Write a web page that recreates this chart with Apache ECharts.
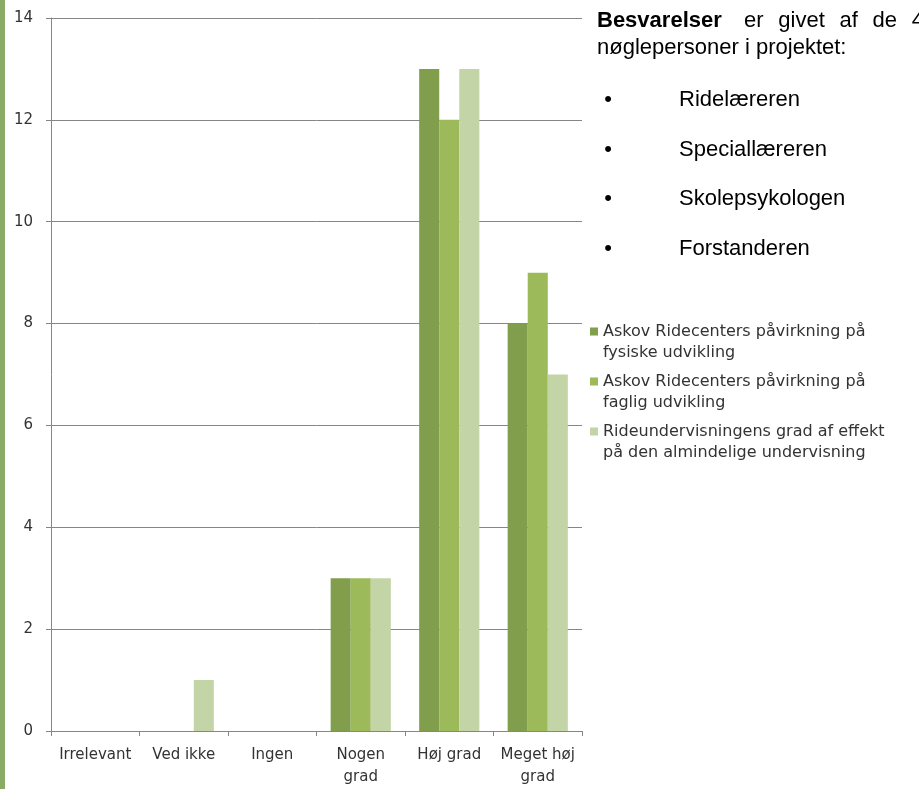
<!DOCTYPE html>
<html><head><meta charset="utf-8">
<script src="https://cdn.jsdelivr.net/npm/echarts@6/dist/echarts.min.js"></script>
<style>html,body{margin:0;padding:0;background:#fff}#c{width:919px;height:789px}</style>
</head><body><div id="c"></div>
<script>
var categories = ['Irrelevant', 'Ved ikke', 'Ingen', 'Nogen\ngrad', 'Høj grad', 'Meget høj\ngrad'];
var seriesNames = [
  'Askov Ridecenters påvirkning på\nfysiske udvikling',
  'Askov Ridecenters påvirkning på\nfaglig udvikling',
  'Rideundervisningens grad af effekt\npå den almindelige undervisning'
];
var fysisk = [0, 0, 0, 3, 13, 8];
var faglig = [0, 0, 0, 3, 12, 9];
var effekt = [0, 1, 0, 3, 13, 7];
var yTicks = { min: 0, max: 14, interval: 2 };
var introWords = ['Besvarelser', 'er', 'givet', 'af', 'de', '4'];
var introLine2 = 'nøglepersoner i projektet:';
var bullets = ['Ridelæreren', 'Speciallæreren', 'Skolepsykologen', 'Forstanderen'];
var colors = ['#809e4c', '#9dba5b', '#c3d4a6'];

var chart = echarts.init(document.getElementById('c'));
var values = [fysisk, faglig, effekt];
var font = '"DejaVu Sans", sans-serif';
var arial = '"Liberation Sans", Arial, sans-serif';
var fs = 22;

// justified first line of the text column
var ctx = document.createElement('canvas').getContext('2d');
function w(t, bold) { ctx.font = (bold ? 'bold ' : '') + fs + 'px ' + arial; return ctx.measureText(t).width; }
var lineStart = 597, lineEnd = 924;
var total = 0;
introWords.forEach(function (t, i) { total += w(t, i === 0); });
var gap = (lineEnd - lineStart - total) / (introWords.length - 1);
var graphics = [
  { type: 'rect', shape: { x: 0, y: 0, width: 5, height: 789 }, style: { fill: '#8aab66' } }
];
var cx = lineStart;
introWords.forEach(function (t, i) {
  graphics.push({ type: 'text', x: cx, y: 21, style: { text: t, fontSize: fs, fontWeight: i === 0 ? 'bold' : 'normal', fontFamily: arial, fill: '#000', verticalAlign: 'middle' } });
  cx += w(t, i === 0) + gap + (i === 0 ? 6 : -1.5);
});
graphics.push({ type: 'text', x: lineStart, y: 48, style: { text: introLine2, fontSize: fs, fontFamily: arial, fill: '#000', verticalAlign: 'middle' } });
bullets.forEach(function (b, i) {
  var y = 100 + i * 49.5;
  graphics.push({ type: 'text', x: 608, y: y, style: { text: '•', fontSize: fs, fontFamily: arial, fill: '#000', align: 'center', verticalAlign: 'middle' } });
  graphics.push({ type: 'text', x: 679, y: y, style: { text: b, fontSize: fs, fontFamily: arial, fill: '#000', verticalAlign: 'middle' } });
});

chart.setOption({
  animation: false,
  color: colors,
  grid: { left: 51, right: 337, top: 18, bottom: 58, containLabel: false },
  legend: {
    orient: 'vertical', left: 585, top: 316,
    icon: 'path://M0,0H8V8H0Z M0,30L0.01,30', itemWidth: 8, itemHeight: 30, itemGap: 7,
    textStyle: { fontSize: 16, lineHeight: 21.5, fontFamily: font, color: '#333' },
    data: seriesNames
  },
  xAxis: {
    type: 'category', data: categories,
    axisLine: { lineStyle: { color: '#868686', width: 1 } },
    axisTick: { show: true, length: 5, lineStyle: { color: '#868686' } },
    axisLabel: { fontSize: 15, lineHeight: 22, fontFamily: font, color: '#333', margin: 13, interval: 0 }
  },
  yAxis: {
    type: 'value', min: yTicks.min, max: yTicks.max, interval: yTicks.interval,
    axisLine: { show: true, lineStyle: { color: '#868686', width: 1 } },
    axisTick: { show: true, length: 5, lineStyle: { color: '#868686' } },
    axisLabel: { fontSize: 15, fontFamily: font, color: '#333', margin: 18 },
    splitLine: { show: true, lineStyle: { color: '#868686', width: 1 } }
  },
  series: seriesNames.map(function (n, i) {
    return { name: n, type: 'bar', data: values[i], barGap: '0%', barCategoryGap: '32%', itemStyle: { color: colors[i] } };
  }),
  graphic: graphics
});
</script></body></html>
